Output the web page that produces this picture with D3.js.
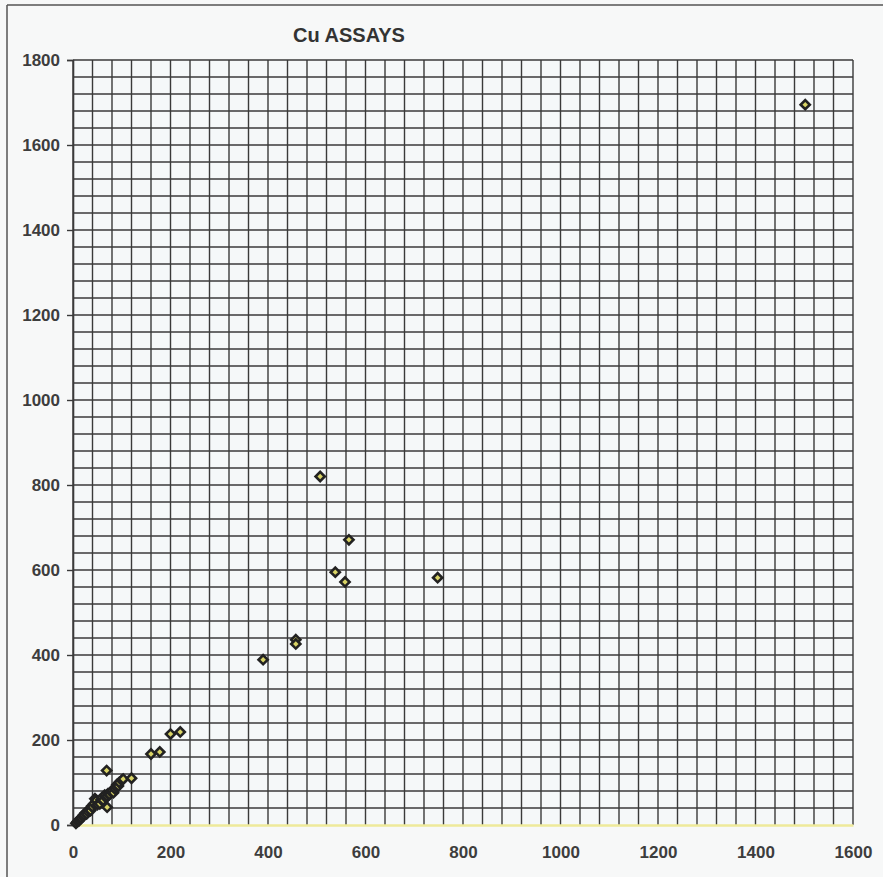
<!DOCTYPE html>
<html>
<head>
<meta charset="utf-8">
<script src="https://cdn.jsdelivr.net/npm/d3@7"></script>
<style>
  html, body { margin: 0; padding: 0; background: #f7f8f8; }
  svg { display: block; }
</style>
</head>
<body>
<svg id="chart" width="883" height="877"></svg>
<script>
// Cu assay pairs: first (x) vs repeat (y) determinations
const assayX = [6, 9, 12, 14, 17, 20, 22, 25, 28, 30, 33, 36, 38, 40, 43, 45, 48, 50, 55, 58, 60, 62, 65, 68, 70, 70, 72, 75, 78, 80, 83, 86, 88, 90, 93, 95, 100, 103, 69, 120,
                160, 178, 200, 220, 390, 457, 457, 507, 538, 558, 566, 748, 1502];
const assayY = [4, 8, 10, 14, 16, 20, 24, 28, 26, 32, 36, 34, 44, 43, 50, 62, 58, 48, 50, 60, 65, 58, 70, 64, 42, 68, 74, 72, 78, 80, 76, 85, 90, 95, 92, 100, 105, 108, 128, 110,
                167, 172, 214, 219, 389, 436, 426, 820, 595, 572, 671, 582, 1695];
const xTicks = [0, 200, 400, 600, 800, 1000, 1200, 1400, 1600];
const yTicks = [0, 200, 400, 600, 800, 1000, 1200, 1400, 1600, 1800];
const gridStep = 40;
const title = "Cu ASSAYS";

const svg = d3.select("#chart");
const plotL = 73, plotR = 853, plotT = 60, plotB = 825;

const x = d3.scaleLinear().domain([0, 1600]).range([plotL, plotR]);
const y = d3.scaleLinear().domain([0, 1800]).range([plotB, plotT]);

// chart frame: top and left edges
const frameColor = "#555";
svg.append("line").attr("x1", 7).attr("x2", 883).attr("y1", 5).attr("y2", 5)
  .attr("stroke", frameColor).attr("stroke-width", 1.5);
svg.append("line").attr("x1", 7).attr("x2", 7).attr("y1", 5).attr("y2", 877)
  .attr("stroke", frameColor).attr("stroke-width", 1.5);

// plot area
svg.append("rect")
  .attr("x", plotL).attr("y", plotT).attr("width", plotR - plotL).attr("height", plotB - plotT)
  .attr("fill", "#f5f8f9");

const gridColor = "#3a3a3a";
const g = svg.append("g");

// vertical grid
g.selectAll("line.vx").data(d3.range(0, 1600 + 1, gridStep)).join("line")
  .attr("class", "vx")
  .attr("x1", d => x(d)).attr("x2", d => x(d))
  .attr("y1", plotT).attr("y2", plotB)
  .attr("stroke", gridColor).attr("stroke-width", 1.4);

// horizontal grid
g.selectAll("line.hy").data(d3.range(gridStep, 1800 + 1, gridStep)).join("line")
  .attr("class", "hy")
  .attr("x1", plotL).attr("x2", plotR)
  .attr("y1", d => y(d)).attr("y2", d => y(d))
  .attr("stroke", gridColor).attr("stroke-width", 1.4);

const labelFont = "Arial, 'Liberation Sans', sans-serif";

// y axis
const yAxis = d3.axisLeft(y).tickValues(yTicks).tickSize(6).tickPadding(7).tickFormat(d3.format("d"));
const ya = svg.append("g").attr("transform", `translate(${plotL},0)`).call(yAxis);
ya.select(".domain").attr("stroke", gridColor).attr("stroke-width", 1.6);
ya.selectAll(".tick line").attr("stroke", gridColor).attr("stroke-width", 1.4);
ya.selectAll(".tick text")
  .attr("fill", "#3d3d3d").style("font-family", labelFont)
  .style("font-size", "17px").style("font-weight", "bold").attr("dy", "0.35em");

// x axis
const xAxis = d3.axisBottom(x).tickValues(xTicks).tickSize(0).tickPadding(21).tickFormat(d3.format("d"));
const xa = svg.append("g").attr("transform", `translate(0,${plotB})`).call(xAxis);
xa.select(".domain").attr("stroke", "#eeea9a").attr("stroke-width", 2.5);
xa.selectAll(".tick text")
  .attr("fill", "#3d3d3d").style("font-family", labelFont)
  .style("font-size", "17px").style("font-weight", "bold");

// title
svg.append("text")
  .attr("x", 349).attr("y", 42).attr("text-anchor", "middle")
  .attr("fill", "#333")
  .style("font-family", labelFont)
  .style("font-size", "20px").style("font-weight", "bold")
  .text(title);

// markers
const pts = assayX.map((v, i) => ({ x: v, y: assayY[i] }));
const sym = d3.symbol().type(d3.symbolSquare).size(42);
svg.append("g").selectAll("path").data(pts).join("path")
  .attr("d", sym)
  .attr("transform", d => `translate(${x(d.x)},${y(d.y)}) rotate(45)`)
  .attr("fill", "#d9d466").attr("stroke", "#222").attr("stroke-width", 2.6);
</script>
</body>
</html>
